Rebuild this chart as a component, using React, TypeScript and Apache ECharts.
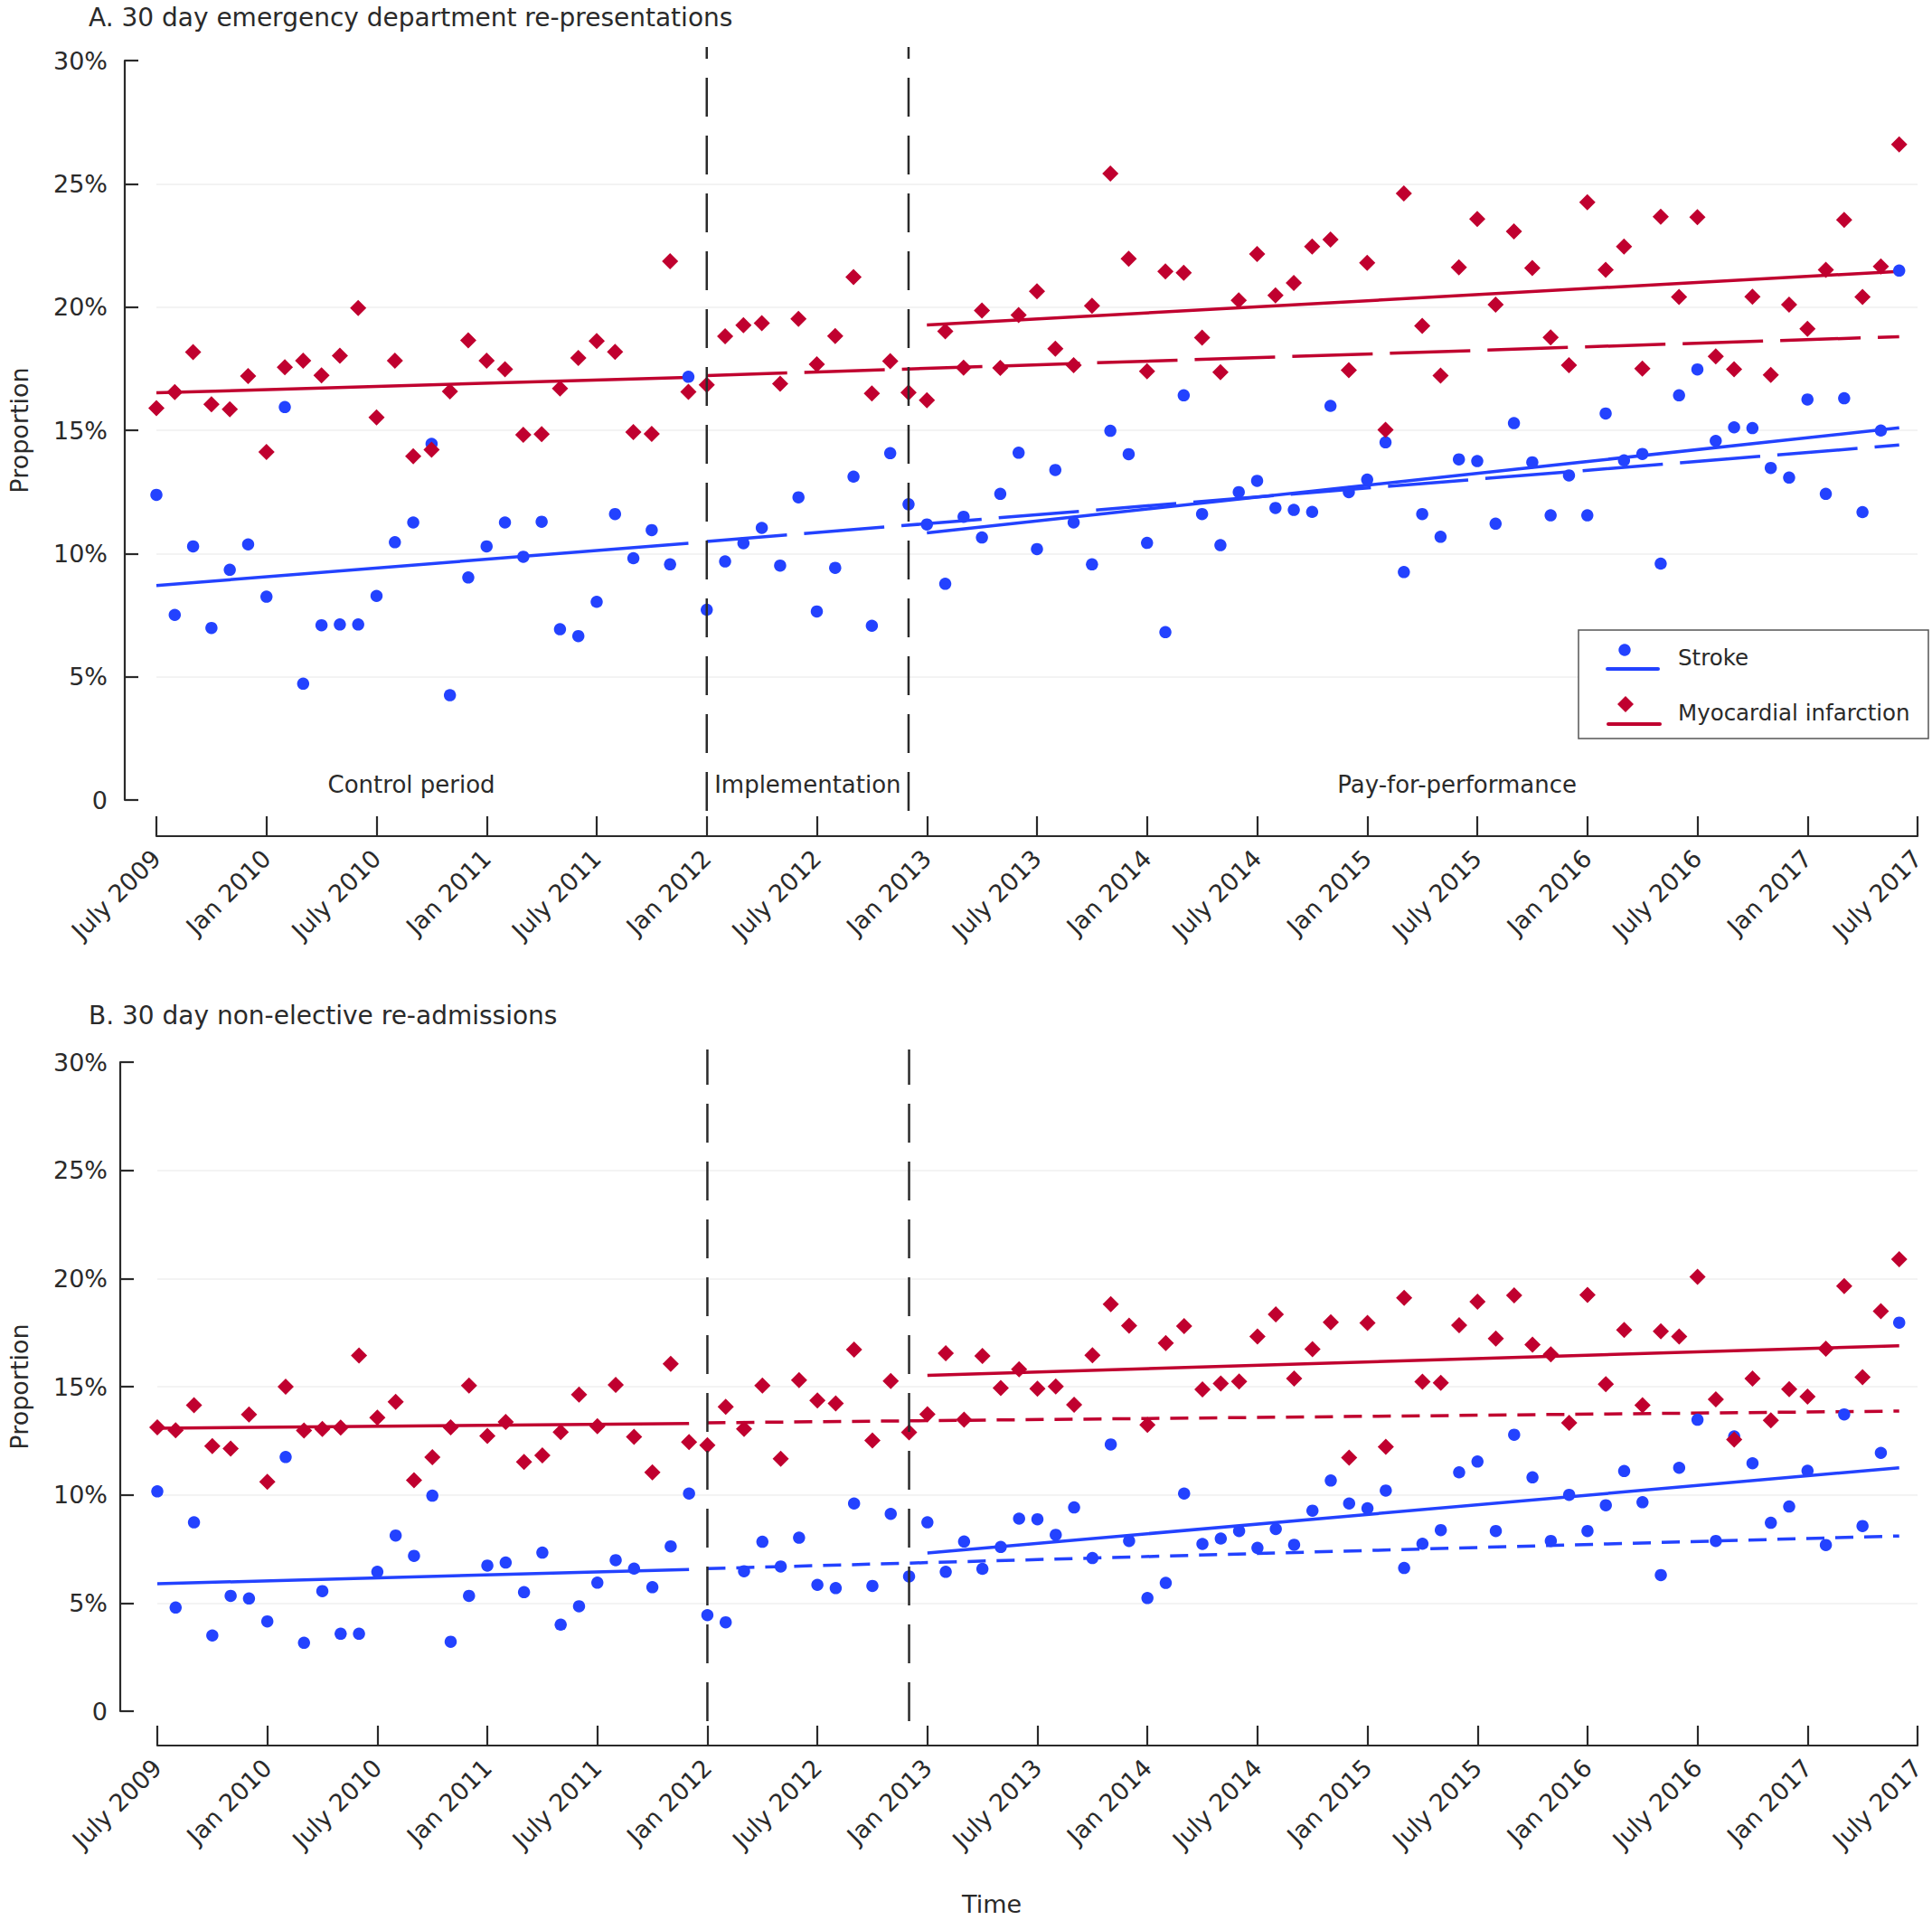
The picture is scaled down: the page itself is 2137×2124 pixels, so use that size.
import { useEffect, useRef } from 'react';
import * as echarts from 'echarts';

// months since July 2009 (0) .. June 2017 (95)
const xTickLabels = [
  'July 2009', 'Jan 2010', 'July 2010', 'Jan 2011', 'July 2011', 'Jan 2012',
  'July 2012', 'Jan 2013', 'July 2013', 'Jan 2014', 'July 2014', 'Jan 2015',
  'July 2015', 'Jan 2016', 'July 2016', 'Jan 2017', 'July 2017',
];
const yTickLabels = ['0', '5%', '10%', '15%', '20%', '25%', '30%'];

const periodLabels = ['Control period', 'Implementation', 'Pay-for-performance'];
const periodCentres = [13.9, 35.5, 70.9];
const phaseBreaks = [30, 41];

// A. 30 day emergency department re-presentations (%)
const edStroke = [
  12.38, 7.51, 10.29, 6.98, 9.34, 10.37, 8.25, 15.94, 4.72, 7.09, 7.12, 7.12,
  8.28, 10.46, 11.26, 14.45, 4.25, 9.03, 10.29, 11.26, 9.87, 11.29, 6.93, 6.65,
  8.04, 11.6, 9.81, 10.95, 9.56, 17.17, 7.72, 9.68, 10.42, 11.04, 9.51, 12.28,
  7.65, 9.42, 13.12, 7.07, 14.07, 12.0, 11.18, 8.77, 11.49, 10.65, 12.42, 14.09,
  10.18, 13.39, 11.26, 9.56, 14.98, 14.03, 10.43, 6.81, 16.42, 11.6, 10.34, 12.49,
  12.95, 11.85, 11.77, 11.69, 15.99, 12.49, 13.0, 14.51, 9.25, 11.6, 10.68, 13.82,
  13.75, 11.21, 15.29, 13.7, 11.55, 13.17, 11.55, 15.68, 13.78, 14.04, 9.59, 16.42,
  17.47, 14.57, 15.12, 15.09, 13.47, 13.08, 16.25, 12.42, 16.3, 11.68, 14.99, 21.48,
];
const edMI = [
  15.9, 16.55, 18.17, 16.05, 15.85, 17.2, 14.12, 17.56, 17.82, 17.23, 18.03, 19.96,
  15.52, 17.82, 13.95, 14.21, 16.58, 18.65, 17.82, 17.48, 14.82, 14.84, 16.7, 17.93,
  18.62, 18.18, 14.93, 14.85, 21.86, 16.56, 16.84, 18.81, 19.26, 19.35, 16.89, 19.52,
  17.68, 18.82, 21.22, 16.49, 17.81, 16.53, 16.22, 19.02, 17.54, 19.86, 17.53, 19.68,
  20.64, 18.31, 17.64, 20.05, 25.42, 21.96, 17.39, 21.45, 21.39, 18.76, 17.36, 20.27,
  22.15, 20.47, 20.98, 22.45, 22.74, 17.44, 21.79, 15.02, 24.61, 19.24, 17.22, 21.61,
  23.57, 20.1, 23.07, 21.58, 18.77, 17.64, 24.25, 21.51, 22.45, 17.5, 23.66, 20.41,
  23.65, 18.0, 17.48, 20.42, 17.25, 20.1, 19.12, 21.51, 23.54, 20.41, 21.65, 26.6,
];

// B. 30 day non-elective re-admissions (%)
const readmitStroke = [
  10.16, 4.79, 8.73, 3.5, 5.33, 5.21, 4.15, 11.75, 3.16, 5.55, 3.58, 3.58,
  6.44, 8.12, 7.18, 9.96, 3.21, 5.33, 6.73, 6.87, 5.5, 7.33, 4.0, 4.85,
  5.94, 6.98, 6.59, 5.73, 7.62, 10.06, 4.44, 4.11, 6.47, 7.83, 6.69, 8.02,
  5.84, 5.69, 9.6, 5.79, 9.12, 6.23, 8.73, 6.44, 7.84, 6.58, 7.59, 8.9,
  8.87, 8.15, 9.42, 7.08, 12.33, 7.87, 5.23, 5.93, 10.06, 7.73, 7.98, 8.33,
  7.55, 8.42, 7.69, 9.27, 10.66, 9.6, 9.38, 10.2, 6.62, 7.74, 8.37, 11.04,
  11.54, 8.33, 12.78, 10.81, 7.87, 10.0, 8.33, 9.52, 11.1, 9.66, 6.29, 11.25,
  13.47, 7.87, 12.7, 11.46, 8.71, 9.46, 11.11, 7.68, 13.72, 8.56, 11.94, 17.96,
];
const readmitMI = [
  13.12, 12.98, 14.14, 12.25, 12.14, 13.72, 10.6, 15.0, 12.97, 13.05, 13.11, 16.44,
  13.57, 14.3, 10.68, 11.74, 13.12, 15.05, 12.72, 13.37, 11.52, 11.82, 12.9, 14.63,
  13.17, 15.08, 12.68, 11.04, 16.05, 12.44, 12.29, 14.07, 13.05, 15.05, 11.67, 15.3,
  14.36, 14.23, 16.71, 12.51, 15.26, 12.89, 13.73, 16.55, 13.47, 16.42, 14.94, 15.8,
  14.91, 15.01, 14.16, 16.45, 18.81, 17.82, 13.23, 17.02, 17.8, 14.87, 15.15, 15.24,
  17.32, 18.34, 15.38, 16.73, 17.98, 11.72, 17.95, 12.22, 19.1, 15.23, 15.18, 17.84,
  18.93, 17.23, 19.22, 16.94, 16.49, 13.33, 19.24, 15.12, 17.62, 14.14, 17.56, 17.32,
  20.08, 14.41, 12.56, 15.38, 13.44, 14.88, 14.54, 16.76, 19.65, 15.44, 18.49, 20.89,
];

// fitted segments: [startMonth, startValue, endMonth, endValue]
const edStrokeControl = [0, 8.7, 29, 10.42];
const edStrokeCounterfactual = [30, 10.49, 95, 14.4];
const edStrokeP4P = [42, 10.84, 95, 15.1];
const edMIControl = [0, 16.52, 29, 17.15];
const edMICounterfactual = [30, 17.22, 95, 18.8];
const edMIP4P = [42, 19.27, 95, 21.45];
const readmitStrokeControl = [0, 5.89, 29, 6.55];
const readmitStrokeCounterfactual = [30, 6.59, 95, 8.1];
const readmitStrokeP4P = [42, 7.31, 95, 11.25];
const readmitMIControl = [0, 13.08, 29, 13.3];
const readmitMICounterfactual = [30, 13.33, 95, 13.87];
const readmitMIP4P = [42, 15.52, 95, 16.89];

const BLUE = '#2342ff';
const RED = '#c0002f';
const INK = '#2a2a2a';
const FONT = 'DejaVu Sans';

const seg = (s: number[]) => [[s[0], s[1]], [s[2], s[3]]];

function trend(idx: number, s: number[], color: string, type: any) {
  return {
    type: 'line',
    xAxisIndex: idx,
    yAxisIndex: idx,
    data: seg(s),
    symbol: 'none',
    silent: true,
    z: 2,
    lineStyle: { color, width: 3.5, type, cap: 'butt' },
  };
}

function panel(
  idx: number,
  stroke: number[],
  mi: number[],
  strokeSegs: number[][],
  miSegs: number[][],
  dash: number[],
  vExtent: number[],
) {
  const list: any[] = [
    trend(idx, strokeSegs[0], BLUE, 'solid'),
    trend(idx, strokeSegs[1], BLUE, dash),
    trend(idx, strokeSegs[2], BLUE, 'solid'),
    trend(idx, miSegs[0], RED, 'solid'),
    trend(idx, miSegs[1], RED, dash),
    trend(idx, miSegs[2], RED, 'solid'),
    {
      type: 'scatter',
      name: 'Stroke',
      xAxisIndex: idx,
      yAxisIndex: idx,
      data: stroke.map((v, i) => [i, v]),
      symbol: 'circle',
      symbolSize: 13.5,
      itemStyle: { color: BLUE, opacity: 1 },
      z: 3,
    },
    {
      type: 'scatter',
      name: 'Myocardial infarction',
      xAxisIndex: idx,
      yAxisIndex: idx,
      data: mi.map((v, i) => [i, v]),
      symbol: 'diamond',
      symbolSize: 18,
      itemStyle: { color: RED, opacity: 1 },
      z: 4,
    },
  ];
  phaseBreaks.forEach((m) => {
    list.push({
      type: 'line',
      xAxisIndex: idx,
      yAxisIndex: idx,
      data: [[m, vExtent[0]], [m, vExtent[1]]],
      symbol: 'none',
      clip: false,
      silent: true,
      z: 5,
      lineStyle: { color: INK, width: 2.5, type: [43, 21] },
    });
  });
  return list;
}

function xAxisFor(idx: number, offset: number) {
  return {
    type: 'value',
    gridIndex: idx,
    min: 0,
    max: 96,
    interval: 6,
    offset,
    axisLine: { show: true, onZero: false, lineStyle: { color: INK, width: 2.2 } },
    axisTick: { show: true, inside: true, length: 22, lineStyle: { color: INK, width: 2.2 } },
    axisLabel: {
      rotate: 45,
      margin: 20,
      fontSize: 27,
      color: INK,
      fontFamily: FONT,
      formatter: (v: number) => xTickLabels[Math.round(v / 6)] ?? '',
    },
    splitLine: { show: false },
  };
}

function yAxisFor(idx: number, offset: number, margin: number, nameGap: number) {
  return {
    type: 'value',
    gridIndex: idx,
    min: 0,
    max: 30,
    interval: 5,
    offset,
    name: 'Proportion',
    nameLocation: 'middle',
    nameRotate: 90,
    nameGap,
    nameTextStyle: { fontSize: 27, color: INK, fontFamily: FONT },
    axisLine: { show: true, onZero: false, lineStyle: { color: INK, width: 2.2 } },
    axisTick: { show: true, inside: true, length: 15, lineStyle: { color: INK, width: 2.2 } },
    axisLabel: {
      margin,
      fontSize: 27,
      color: INK,
      fontFamily: FONT,
      formatter: (v: number) => yTickLabels[Math.round(v / 5)] ?? '',
    },
    splitLine: {
      show: true,
      showMinLine: false,
      showMaxLine: false,
      lineStyle: { color: '#efefef', width: 1.5 },
    },
  };
}

export default function App() {
  const chartRef = useRef<HTMLDivElement>(null);

  useEffect(() => {
    if (!chartRef.current) return;
    document.body.style.margin = '0';
    const chart = echarts.init(chartRef.current, null, { renderer: 'svg' });

    const series: any[] = [
      ...panel(
        0,
        edStroke,
        edMI,
        [edStrokeControl, edStrokeCounterfactual, edStrokeP4P],
        [edMIControl, edMICounterfactual, edMIP4P],
        [89, 19],
        [-0.44, 30.55],
      ),
      ...panel(
        1,
        readmitStroke,
        readmitMI,
        [readmitStrokeControl, readmitStrokeCounterfactual, readmitStrokeP4P],
        [readmitMIControl, readmitMICounterfactual, readmitMIP4P],
        [20, 12],
        [-0.46, 30.58],
      ),
      {
        type: 'scatter',
        xAxisIndex: 0,
        yAxisIndex: 0,
        silent: true,
        symbolSize: 1,
        itemStyle: { color: 'rgba(0,0,0,0)' },
        data: periodCentres.map((x, i) => ({ value: [x, 0.62], name: periodLabels[i] })),
        label: {
          show: true,
          position: 'inside',
          formatter: '{b}',
          fontSize: 26,
          color: INK,
          opacity: 1,
          textBorderWidth: 0,
          fontFamily: FONT,
        },
        z: 6,
      },
    ];

    const option = {
      animation: false,
      backgroundColor: '#fff',
      textStyle: { fontFamily: FONT },
      title: [
        {
          text: 'A. 30 day emergency department re-presentations',
          left: 93,
          top: 0,
          textStyle: { fontSize: 28, fontWeight: 'normal', color: INK, fontFamily: FONT },
        },
        {
          text: 'B. 30 day non-elective re-admissions',
          left: 93,
          top: 1104,
          textStyle: { fontSize: 28, fontWeight: 'normal', color: INK, fontFamily: FONT },
        },
      ],
      grid: [
        { left: 167.6, right: 16, top: 67, height: 818 },
        { left: 167.6, right: 16, top: 1175, height: 718 },
      ],
      xAxis: [xAxisFor(0, 40), xAxisFor(1, 38)],
      yAxis: [yAxisFor(0, 35, 19, 103), yAxisFor(1, 41, 14, 98)],
      series,
      graphic: [
        {
          type: 'rect',
          shape: { x: 1746, y: 697, width: 387, height: 120 },
          style: { fill: '#fff', stroke: '#555', lineWidth: 1.5 },
          z: 10,
        },
        {
          type: 'circle',
          shape: { cx: 1797, cy: 719, r: 6.7 },
          style: { fill: BLUE },
          z: 11,
        },
        {
          type: 'line',
          shape: { x1: 1778, y1: 740, x2: 1834, y2: 740 },
          style: { stroke: BLUE, lineWidth: 4, lineCap: 'round' },
          z: 11,
        },
        {
          type: 'text',
          x: 1856,
          y: 727,
          style: {
            text: 'Stroke',
            fontSize: 24.5,
            fontFamily: FONT,
            fill: INK,
            verticalAlign: 'middle',
          },
          z: 11,
        },
        {
          type: 'polygon',
          shape: { points: [[1798, 770], [1807, 779], [1798, 788], [1789, 779]] },
          style: { fill: RED },
          z: 11,
        },
        {
          type: 'line',
          shape: { x1: 1779, y1: 801, x2: 1836, y2: 801 },
          style: { stroke: RED, lineWidth: 4, lineCap: 'round' },
          z: 11,
        },
        {
          type: 'text',
          x: 1856,
          y: 788,
          style: {
            text: 'Myocardial infarction',
            fontSize: 24.5,
            fontFamily: FONT,
            fill: INK,
            verticalAlign: 'middle',
          },
          z: 11,
        },
        {
          type: 'text',
          x: 1097,
          y: 2106,
          style: {
            text: 'Time',
            fontSize: 27,
            fontFamily: FONT,
            fill: INK,
            align: 'center',
            verticalAlign: 'middle',
          },
        },
      ],
    };

    chart.setOption(option);
    return () => {
      chart.dispose();
    };
  }, []);

  return <div ref={chartRef} style={{ width: 2137, height: 2124 }} />;
}
